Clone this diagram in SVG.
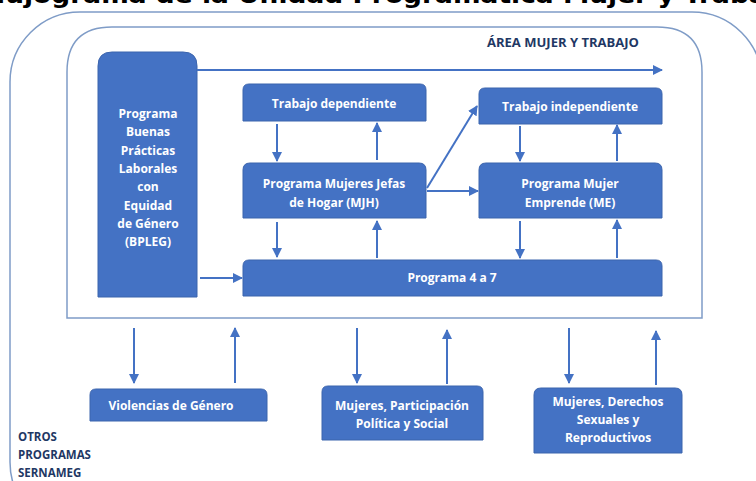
<svg xmlns="http://www.w3.org/2000/svg" width="756" height="481" viewBox="0 0 756 481">
<style>
.frame{fill:none;stroke:#7f9cc7;stroke-width:1.5}
.box{fill:#4472c4;stroke:#3b64ad;stroke-width:1}
.bt{font-family:"Open Sans",Lato,"DejaVu Sans",sans-serif;font-weight:bold;font-size:12px;fill:#ffffff;text-anchor:middle}
.lbl{font-family:"Open Sans",Lato,"DejaVu Sans",sans-serif;font-weight:bold;font-size:11.5px;fill:#1f3864}
.conn{stroke:#4472c4;stroke-width:2;fill:none;marker-end:url(#ah)}
</style>
<defs>
<marker id="ah" viewBox="0 0 10 10" refX="9" refY="5" markerWidth="5" markerHeight="5" orient="auto" markerUnits="strokeWidth">
<path d="M0,0 L10,5 L0,10 z" fill="#4472c4"/>
</marker>
</defs>
<rect width="756" height="481" fill="#ffffff"/>
<text x="386" y="3" font-family="'DejaVu Sans',sans-serif" font-weight="bold" font-size="23" fill="#000000" text-anchor="middle" textLength="816" lengthAdjust="spacingAndGlyphs">Flujograma de la Unidad Programática Mujer y Trabajo</text>
<g id="otros-programas">
<rect class="frame" x="10" y="12" width="752" height="520" rx="70" ry="70"/>
<text class="lbl" x="18" y="441">OTROS</text>
<text class="lbl" x="18" y="459">PROGRAMAS</text>
<text class="lbl" x="18" y="477">SERNAMEG</text>
</g>
<g id="area-mujer-trabajo">
<path class="frame" d="M67,318 L67,72 Q67,27 112,27 L657,27 Q702,27 702,72 L702,318 Z"/>
<text class="lbl" x="563" y="47" text-anchor="middle" font-size="11" textLength="152" lengthAdjust="spacingAndGlyphs">ÁREA MUJER Y TRABAJO</text>
</g>
<g id="bpleg">
<path class="box" d="M98,297 L98,66 Q98,52 112,52 L183,52 Q197,52 197,66 L197,297 Z"/>
<text class="bt" x="148" y="118">Programa</text>
<text class="bt" x="148" y="136">Buenas</text>
<text class="bt" x="148" y="155">Prácticas</text>
<text class="bt" x="148" y="173">Laborales</text>
<text class="bt" x="148" y="191">con</text>
<text class="bt" x="148" y="210">Equidad</text>
<text class="bt" x="148" y="228">de Género</text>
<text class="bt" x="148" y="246">(BPLEG)</text>
</g>
<g id="trabajo-dependiente">
<path class="box" d="M243,121 L243,90 Q243,84 249,84 L420,84 Q426,84 426,90 L426,121 Z"/>
<text class="bt" x="334" y="108">Trabajo dependiente</text>
</g>
<g id="mjh">
<path class="box" d="M243,218 L243,170 Q243,163 250,163 L419,163 Q426,163 426,170 L426,218 Z"/>
<text class="bt" x="334" y="188">Programa Mujeres Jefas</text>
<text class="bt" x="334" y="207">de Hogar (MJH)</text>
</g>
<g id="trabajo-independiente">
<path class="box" d="M479,124 L479,94 Q479,88 485,88 L656,88 Q662,88 662,94 L662,124 Z"/>
<text class="bt" x="570" y="111">Trabajo independiente</text>
</g>
<g id="me">
<path class="box" d="M479,218 L479,170 Q479,163 486,163 L655,163 Q662,163 662,170 L662,218 Z"/>
<text class="bt" x="570" y="188">Programa Mujer</text>
<text class="bt" x="570" y="207">Emprende (ME)</text>
</g>
<g id="programa-4a7">
<path class="box" d="M243,296 L243,266 Q243,260 249,260 L656,260 Q662,260 662,266 L662,296 Z"/>
<text class="bt" x="452" y="282">Programa 4 a 7</text>
</g>
<g id="violencias">
<path class="box" d="M90,421 L90,395 Q90,389 96,389 L261,389 Q267,389 267,395 L267,421 Z"/>
<text class="bt" x="171" y="410">Violencias de Género</text>
</g>
<g id="participacion">
<path class="box" d="M322,440 L322,392 Q322,386 328,386 L477,386 Q483,386 483,392 L483,440 Z"/>
<text class="bt" x="402" y="410">Mujeres, Participación</text>
<text class="bt" x="402" y="428">Política y Social</text>
</g>
<g id="derechos">
<path class="box" d="M534,453 L534,395 Q534,388 541,388 L675,388 Q682,388 682,395 L682,453 Z"/>
<text class="bt" x="608" y="406">Mujeres, Derechos</text>
<text class="bt" x="608" y="424">Sexuales y</text>
<text class="bt" x="608" y="442">Reproductivos</text>
</g>
<g id="connectors">
<line class="conn" x1="197" y1="70" x2="662" y2="70"/>
<line class="conn" x1="277" y1="124" x2="277" y2="161"/>
<line class="conn" x1="377" y1="160" x2="377" y2="123"/>
<line class="conn" x1="427" y1="188" x2="477" y2="106"/>
<line class="conn" x1="427" y1="191" x2="478" y2="191"/>
<line class="conn" x1="520" y1="126" x2="520" y2="161"/>
<line class="conn" x1="617" y1="161" x2="617" y2="125"/>
<line class="conn" x1="277" y1="222" x2="277" y2="257"/>
<line class="conn" x1="377" y1="258" x2="377" y2="221"/>
<line class="conn" x1="520" y1="221" x2="520" y2="258"/>
<line class="conn" x1="617" y1="258" x2="617" y2="220"/>
<line class="conn" x1="200" y1="278" x2="242" y2="278"/>
<line class="conn" x1="134" y1="328" x2="134" y2="383"/>
<line class="conn" x1="235" y1="383" x2="235" y2="328"/>
<line class="conn" x1="357" y1="328" x2="357" y2="383"/>
<line class="conn" x1="447" y1="384" x2="447" y2="330"/>
<line class="conn" x1="569" y1="328" x2="569" y2="383"/>
<line class="conn" x1="656" y1="385" x2="656" y2="331"/>
</g>
</svg>
